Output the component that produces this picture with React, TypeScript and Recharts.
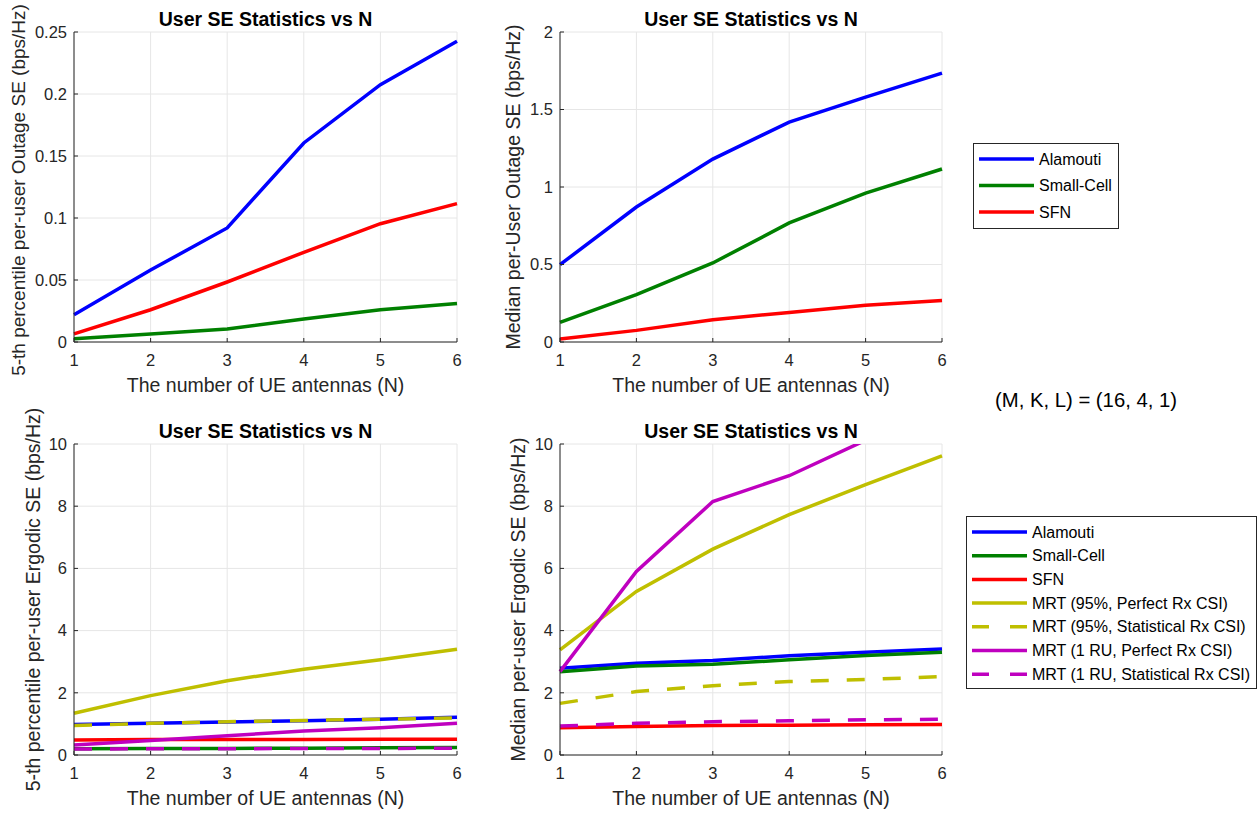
import { LineChart, Line, XAxis, YAxis, CartesianGrid, Label } from 'recharts';

const FONT = '"Liberation Sans", Arial, Helvetica, sans-serif';
const AXIS = '#262626';
const GRID = '#e6e6e6';

const N = [1, 2, 3, 4, 5, 6];

// top left: 5-th percentile outage SE
const out5Alamouti = [0.022, 0.058, 0.092, 0.1605, 0.2075, 0.2425];
const out5SmallCell = [0.0027, 0.0065, 0.0105, 0.0185, 0.026, 0.031];
const out5Sfn = [0.0065, 0.026, 0.0484, 0.0723, 0.0954, 0.1116];

// top right: median outage SE
const outMedAlamouti = [0.499, 0.871, 1.18, 1.419, 1.58, 1.735];
const outMedSmallCell = [0.127, 0.305, 0.51, 0.768, 0.961, 1.116];
const outMedSfn = [0.019, 0.075, 0.144, 0.191, 0.237, 0.267];

// bottom left: 5-th percentile ergodic SE
const erg5Alamouti = [0.98, 1.02, 1.06, 1.1, 1.15, 1.21];
const erg5SmallCell = [0.2, 0.21, 0.21, 0.22, 0.23, 0.24];
const erg5Sfn = [0.48, 0.5, 0.5, 0.5, 0.51, 0.51];
const erg5Mrt95Perfect = [1.34, 1.91, 2.39, 2.76, 3.06, 3.4];
const erg5Mrt95Stat = [0.95, 1.02, 1.07, 1.11, 1.15, 1.19];
const erg5Mrt1Perfect = [0.32, 0.47, 0.62, 0.77, 0.88, 1.02];
const erg5Mrt1Stat = [0.19, 0.2, 0.2, 0.21, 0.21, 0.22];

// bottom right: median ergodic SE
const ergMedAlamouti = [2.79, 2.95, 3.04, 3.19, 3.3, 3.41];
const ergMedSmallCell = [2.68, 2.86, 2.92, 3.06, 3.2, 3.3];
const ergMedSfn = [0.88, 0.92, 0.95, 0.96, 0.97, 0.98];
const ergMedMrt95Perfect = [3.38, 5.26, 6.62, 7.73, 8.69, 9.62];
const ergMedMrt95Stat = [1.66, 2.04, 2.23, 2.36, 2.43, 2.52];
const ergMedMrt1Perfect = [2.68, 5.9, 8.15, 8.98, 10.12, 11.0];
const ergMedMrt1Stat = [0.93, 1.02, 1.07, 1.1, 1.13, 1.15];

const outage5Ticks = [0, 0.05, 0.1, 0.15, 0.2, 0.25];
const outageMedTicks = [0, 0.5, 1, 1.5, 2];
const ergodicTicks = [0, 2, 4, 6, 8, 10];

const TITLE = 'User SE Statistics vs N';
const XLABEL = 'The number of UE antennas (N)';
const NOTE = '(M, K, L) = (16, 4, 1)';

type Series = { key: string; name: string; color: string; dash?: string };

const SERIES: Series[] = [
  { key: 'alamouti', name: 'Alamouti', color: '#0000ff' },
  { key: 'smallCell', name: 'Small-Cell', color: '#008000' },
  { key: 'sfn', name: 'SFN', color: '#ff0000' },
  { key: 'mrt95p', name: 'MRT (95%, Perfect Rx CSI)', color: '#bfbf00' },
  { key: 'mrt95s', name: 'MRT (95%, Statistical Rx CSI)', color: '#bfbf00', dash: '18 18' },
  { key: 'mrt1p', name: 'MRT (1 RU, Perfect Rx CSI)', color: '#bf00bf' },
  { key: 'mrt1s', name: 'MRT (1 RU, Statistical Rx CSI)', color: '#bf00bf', dash: '18 18' },
];

function rows(cols: Record<string, number[]>) {
  return N.map((n, i) => {
    const r: Record<string, number> = { n };
    Object.keys(cols).forEach((k) => (r[k] = cols[k][i]));
    return r;
  });
}

const top5Data = rows({ alamouti: out5Alamouti, smallCell: out5SmallCell, sfn: out5Sfn });
const topMedData = rows({ alamouti: outMedAlamouti, smallCell: outMedSmallCell, sfn: outMedSfn });
const bot5Data = rows({
  alamouti: erg5Alamouti, smallCell: erg5SmallCell, sfn: erg5Sfn,
  mrt95p: erg5Mrt95Perfect, mrt95s: erg5Mrt95Stat, mrt1p: erg5Mrt1Perfect, mrt1s: erg5Mrt1Stat,
});
const botMedData = rows({
  alamouti: ergMedAlamouti, smallCell: ergMedSmallCell, sfn: ergMedSfn,
  mrt95p: ergMedMrt95Perfect, mrt95s: ergMedMrt95Stat, mrt1p: ergMedMrt1Perfect, mrt1s: ergMedMrt1Stat,
});

const XAXIS_H = 30;
const TICK_FS = 16.5;
const LABEL_FS = 19.5;

interface PanelSpec {
  box: { x: number; y: number; w: number; h: number };
  plot: { l: number; r: number; t: number; b: number };
  ylabel: string;
  ylabelX: number; // baseline of the rotated label, relative to box
  ylabelFs?: number;
  ylabelShift?: number;
  yTicks: number[];
  data: Record<string, number>[];
  series: Series[];
}

const PANELS: PanelSpec[] = [
  {
    box: { x: 0, y: 0, w: 480, h: 400 },
    plot: { l: 74, r: 457, t: 32, b: 342 },
    ylabel: '5-th percentile per-user Outage SE (bps/Hz)',
    ylabelX: 24.5,
    ylabelFs: 19,
    ylabelShift: 3, // keep the long label inside the page
    yTicks: outage5Ticks,
    data: top5Data,
    series: SERIES.slice(0, 3),
  },
  {
    box: { x: 480, y: 0, w: 480, h: 400 },
    plot: { l: 560, r: 942, t: 32, b: 342 },
    ylabel: 'Median per-User Outage SE (bps/Hz)',
    ylabelX: 39.5,
    yTicks: outageMedTicks,
    data: topMedData,
    series: SERIES.slice(0, 3),
  },
  {
    box: { x: 0, y: 400, w: 480, h: 416 },
    plot: { l: 74, r: 457, t: 444, b: 755 },
    ylabel: '5-th percentile per-user Ergodic SE (bps/Hz)',
    ylabelX: 39.5,
    yTicks: ergodicTicks,
    data: bot5Data,
    series: SERIES,
  },
  {
    box: { x: 480, y: 400, w: 480, h: 416 },
    plot: { l: 560, r: 942, t: 444, b: 755 },
    ylabel: 'Median per-user Ergodic SE (bps/Hz)',
    ylabelX: 44.5,
    yTicks: ergodicTicks,
    data: botMedData,
    series: SERIES,
  },
];

function XTick(props: any) {
  const { x, y, payload } = props;
  return (
    <g>
      <line x1={x} x2={x} y1={y} y2={y - 4} stroke={AXIS} />
      <text x={x} y={y + 24} textAnchor="middle" fontSize={TICK_FS} fill={AXIS} fontFamily={FONT}>
        {payload.value}
      </text>
    </g>
  );
}

function YTick(props: any) {
  const { x, y, payload } = props;
  return (
    <g>
      <line x1={x} x2={x + 4} y1={y} y2={y} stroke={AXIS} />
      <text x={x - 7} y={y + 5.7} textAnchor="end" fontSize={TICK_FS} fill={AXIS} fontFamily={FONT}>
        {payload.value}
      </text>
    </g>
  );
}

function Panel({ spec }: { spec: PanelSpec }) {
  const { box, plot } = spec;
  const yAxisW = plot.l - box.x;
  const margin = {
    top: plot.t - box.y,
    right: box.x + box.w - plot.r,
    bottom: box.y + box.h - plot.b - XAXIS_H,
    left: 0,
  };
  const ymax = spec.yTicks[spec.yTicks.length - 1];
  return (
    <div style={{ position: 'absolute', left: box.x, top: box.y }}>
      <LineChart width={box.w} height={box.h} data={spec.data} margin={margin}>
        <CartesianGrid stroke={GRID} />
        <XAxis
          dataKey="n"
          type="number"
          domain={[1, 6]}
          ticks={N}
          height={XAXIS_H}
          tickSize={0}
          tickMargin={0}
          tickLine={false}
          tick={<XTick />}
          axisLine={{ stroke: AXIS }}
        >
          <Label
            content={(p: any) => {
              const vb = p.viewBox;
              return (
                <text x={vb.x + vb.width / 2} y={vb.y + 50} textAnchor="middle" fontSize={LABEL_FS} fill={AXIS} fontFamily={FONT}>
                  {XLABEL}
                </text>
              );
            }}
          />
        </XAxis>
        <YAxis
          type="number"
          domain={[0, ymax]}
          ticks={spec.yTicks}
          allowDataOverflow
          width={yAxisW}
          tickSize={0}
          tickMargin={0}
          tickLine={false}
          tick={<YTick />}
          axisLine={{ stroke: AXIS }}
        >
          <Label
            content={(p: any) => {
              const vb = p.viewBox;
              const cx = vb.x + spec.ylabelX;
              const cy = vb.y + vb.height / 2 + (spec.ylabelShift || 0);
              return (
                <text x={cx} y={cy} transform={`rotate(-90 ${cx} ${cy})`} textAnchor="middle" fontSize={spec.ylabelFs || LABEL_FS} fill={AXIS} fontFamily={FONT}>
                  {spec.ylabel}
                </text>
              );
            }}
          />
        </YAxis>
        {spec.series.map((s) => (
          <Line
            key={s.key}
            type="linear"
            dataKey={s.key}
            stroke={s.color}
            strokeWidth={3.5}
            strokeDasharray={s.dash}
            dot={false}
            activeDot={false}
            isAnimationActive={false}
          />
        ))}
      </LineChart>
      <div
        style={{
          position: 'absolute',
          left: plot.l - box.x,
          width: plot.r - plot.l,
          top: plot.t - box.y - 24,
          textAlign: 'center',
          fontFamily: FONT,
          fontWeight: 'bold',
          fontSize: LABEL_FS,
          lineHeight: '22px',
          color: '#000',
          whiteSpace: 'nowrap',
        }}
      >
        {TITLE}
      </div>
    </div>
  );
}

function LegendBox({ x, y, w, h, series, first, step }: { x: number; y: number; w: number; h: number; series: Series[]; first: number; step: number }) {
  return (
    <svg width={w} height={h} style={{ position: 'absolute', left: x, top: y }}>
      <rect x={0.5} y={0.5} width={w - 1} height={h - 1} fill="#fff" stroke={AXIS} />
      {series.map((s, i) => {
        const cy = first + i * step;
        return (
          <g key={s.key}>
            <line x1={6} x2={61} y1={cy} y2={cy} stroke={s.color} strokeWidth={3.5} strokeDasharray={s.dash ? '17 21' : undefined} />
            <text x={66} y={cy + 5.5} fontSize={16} fontFamily={FONT} fill="#000">
              {s.name}
            </text>
          </g>
        );
      })}
    </svg>
  );
}

export default function App() {
  return (
    <div style={{ position: 'absolute', left: 0, top: 0, width: 1260, height: 816, background: '#fff', overflow: 'hidden' }}>
      {PANELS.map((p, i) => (
        <Panel key={i} spec={p} />
      ))}
      <LegendBox x={973} y={143} w={146} h={86} series={SERIES.slice(0, 3)} first={16} step={26.5} />
      <LegendBox x={966} y={516} w={291} h={173} series={SERIES} first={16} step={23.7} />
      <div style={{ position: 'absolute', left: 995, top: 388, fontFamily: FONT, fontSize: 20.3, lineHeight: '24px', color: '#000', whiteSpace: 'nowrap' }}>
        {NOTE}
      </div>
    </div>
  );
}
